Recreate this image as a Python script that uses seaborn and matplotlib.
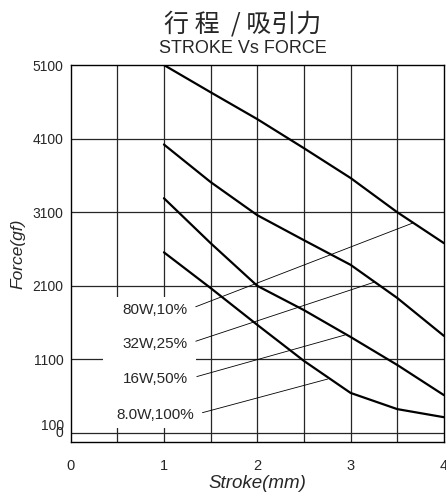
import matplotlib
matplotlib.use("Agg")
import matplotlib.pyplot as plt
import numpy as np
import pandas as pd
import seaborn as sns
from matplotlib.patches import Rectangle

# values
stroke = [1, 1.5, 2, 2.5, 3, 3.5, 4]
force_80w = [5100, 4730, 4365, 3970, 3565, 3100, 2680]
force_32w = [4020, 3510, 3060, 2720, 2385, 1935, 1420]
force_16w = [3290, 2680, 2100, 1770, 1405, 1025, 615]
force_8w = [2555, 2070, 1570, 1080, 645, 425, 315]
series_names = ["80W,10%", "32W,25%", "16W,50%", "8.0W,100%"]

# where each label's leader line touches its curve
tip_x = [3.666, 3.259, 2.94, 2.756]
tip_y = [2953, 2152, 1432, 834]

x_ticks = [0, 1, 2, 3, 4]
x_ticklabels = ["0", "1", "2", "3", "4"]
y_ticks = [0, 100, 1100, 2100, 3100, 4100, 5100]
y_ticklabels = ["0", "100", "1100", "2100", "3100", "4100", "5100"]

rows = []
for name, vals in zip(series_names, [force_80w, force_32w, force_16w, force_8w]):
    for s, f in zip(stroke, vals):
        rows.append({"stroke": s, "force": f, "series": name})
df = pd.DataFrame(rows)

sns.set_style("white")
plt.rcParams['font.family'] = ['Liberation Sans', 'DejaVu Sans']

fig = plt.figure(figsize=(4.46, 5.04), dpi=100)
ax = fig.add_axes([0.1583, 0.123, 0.837, 0.748])

# grid lines
for gx in np.arange(0.5, 4, 0.5):
    ax.axvline(gx, color='#262626', lw=0.9, zorder=1)
for gy in [100, 1100, 2100, 3100, 4100]:
    ax.axhline(gy, color='#262626', lw=0.9, zorder=1)

# white patch behind the labels
ax.add_patch(Rectangle((0.347, 168), 0.996, 1780, facecolor='white',
                       edgecolor='none', zorder=1.5))

sns.lineplot(data=df, x="stroke", y="force", hue="series",
             palette=['black'] * 4, legend=False, lw=1.6, ax=ax,
             errorbar=None, zorder=3)

label_x = [1.25, 1.25, 1.26, 1.32]
label_y = [1771, 1309, 834, 345]
for name, lx, ly, tx, ty in zip(series_names, label_x, label_y, tip_x, tip_y):
    ax.annotate(name, xy=(tx, ty), xytext=(lx, ly), ha='right', va='center',
                fontsize=11, zorder=4,
                arrowprops=dict(arrowstyle='-', lw=0.6, color='black',
                                relpos=(1, 0.5), shrinkA=4, shrinkB=0))

ax.set_xlim(0, 4)
ax.set_ylim(-22, 5100)
ax.set_xticks(x_ticks)
ax.set_xticklabels(x_ticklabels, fontsize=10.5)
ax.set_yticks(y_ticks)
ax.set_yticklabels(y_ticklabels, fontsize=10)
for lbl in ax.get_yticklabels()[:2]:
    lbl.set_va('bottom')
ax.tick_params(axis='x', length=0, pad=12)
ax.tick_params(axis='y', length=0, pad=5)

for sp in ax.spines.values():
    sp.set_color('black')
    sp.set_linewidth(1.0)

ax.set_xlabel("Stroke(mm)", fontsize=13.5, style='italic', labelpad=2)
ax.set_ylabel("Force(gf)", fontsize=12.5, style='italic', labelpad=5)

fig.text(0.543, 0.952, "行 程  / 吸引力", ha='center', va='center', fontsize=18,
         family=['Noto Sans CJK SC', 'DejaVu Sans'])
fig.text(0.544, 0.903, "STROKE Vs FORCE", ha='center', va='center', fontsize=13)

fig.savefig("out.png", dpi=100)
